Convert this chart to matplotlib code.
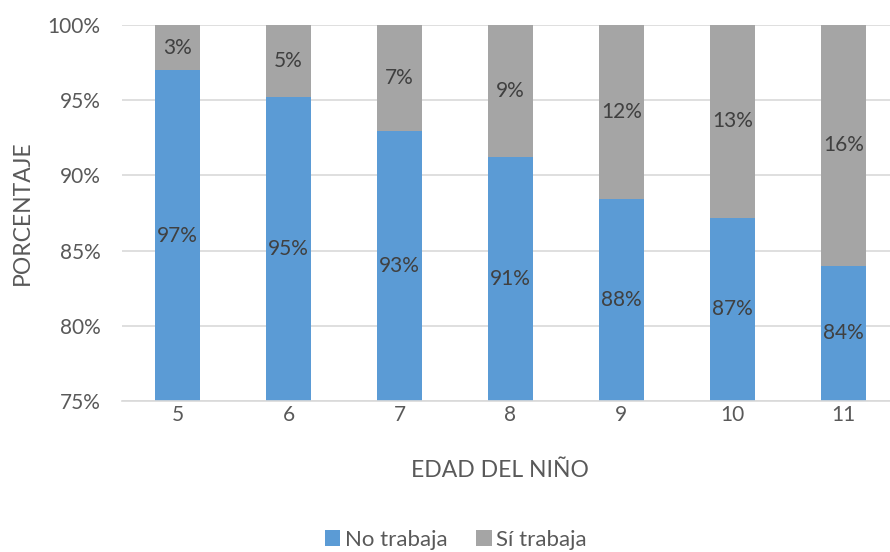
import matplotlib
matplotlib.use("Agg")
import matplotlib.pyplot as plt
import numpy as np

plt.rcParams["font.family"] = ["Lato", "DejaVu Sans"]

edades = ["5", "6", "7", "8", "9", "10", "11"]
no_trabaja = [97.0, 95.2, 92.95, 91.2, 88.4, 87.2, 84.0]
si_trabaja = [100 - v for v in no_trabaja]

azul = "#5B9BD5"
gris = "#A5A5A5"
texto = "#404040"

fig = plt.figure(figsize=(8.9, 5.52), dpi=100)
ax = fig.add_axes([122 / 890, 1 - 401 / 552, (890 - 122) / 890, 376 / 552])

x = np.arange(len(edades))
ancho = 0.4
ax.bar(x, no_trabaja, width=ancho, color=azul, label="No trabaja", zorder=2)
ax.bar(x, si_trabaja, width=ancho, bottom=no_trabaja, color=gris,
       label="Sí trabaja", zorder=2)

ymin, ymax = 75, 100
for xi, n, s in zip(x, no_trabaja, si_trabaja):
    ax.text(xi, (ymin + n) / 2, f"{round(n):.0f}%", ha="center", va="center",
            fontsize=15, color=texto, zorder=3)
    ax.text(xi, n + s / 2, f"{round(s):.0f}%", ha="center", va="center",
            fontsize=15, color=texto, zorder=3)

ax.set_ylim(ymin, ymax)
ax.set_xlim(-0.5, 6.42)
ax.set_yticks(np.arange(75, 101, 5))
ax.set_yticklabels([f"{v}%" for v in range(75, 101, 5)])
ax.set_xticks(x)
ax.set_xticklabels(edades)
ax.tick_params(length=0, labelsize=15, labelcolor="#595959")
ax.tick_params(axis="y", pad=15.5)
ax.tick_params(axis="x", pad=3)
ax.grid(axis="y", color="#D9D9D9", linewidth=1.2, zorder=0)
for side in ["top", "right", "left"]:
    ax.spines[side].set_visible(False)
ax.spines["bottom"].set_color("#D9D9D9")
ax.spines["bottom"].set_linewidth(1.2)

ax.set_xlabel("EDAD DEL NIÑO", fontsize=16.5, color="#595959")
ax.set_ylabel("PORCENTAJE", fontsize=16.5, color="#595959")
ax.xaxis.set_label_coords((500 - 122) / 768, -(460 - 401) / 376)
ax.yaxis.set_label_coords(-(122 - 33) / 768, 0.5)

fig.legend(loc="center", bbox_to_anchor=(456 / 890, 1 - 540 / 552), ncol=2,
           frameon=False, fontsize=16, handlelength=0.7, handleheight=0.7,
           handletextpad=0.2, columnspacing=1.3, labelcolor="#595959")

fig.savefig("out.png", dpi=100)
